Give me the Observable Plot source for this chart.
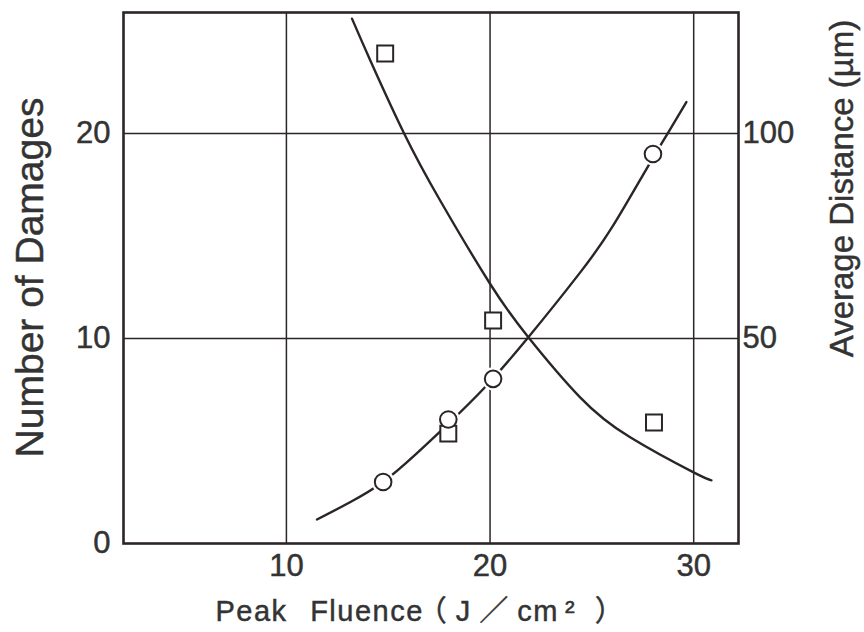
<!DOCTYPE html>
<html>
<head>
<meta charset="utf-8">
<script src="https://cdn.jsdelivr.net/npm/d3@7"></script>
<script src="https://cdn.jsdelivr.net/npm/@observablehq/plot@0.6"></script>
<style>
  html, body { margin: 0; padding: 0; background: #ffffff; }
  #chart { width: 864px; height: 632px; }
</style>
</head>
<body>
<div id="chart"></div>
<script>
// Measured points: number of damages (circles, left axis)
const damageFluence = [14.75, 17.95, 20.15, 28.0];
const damageCount = [3.0, 6.05, 8.03, 19.0];

// Measured points: average distance in µm (squares, right axis)
const distanceFluence = [14.85, 17.95, 20.15, 28.05];
const distanceUm = [119.5, 26.8, 54.4, 29.5];

// Hand-drawn fitted curves
const damageCurveX = [11.5, 13.1, 14.74, 16.4, 17.96, 19.75, 21.88, 24.41, 26.04, 27.7, 28.74, 29.64];
const damageCurveY = [1.17, 2.0, 3.0, 4.4, 5.85, 7.62, 10.06, 13.2, 15.5, 18.3, 20.03, 21.53];
const distanceCurveX = [13.22, 14.12, 15.78, 17.55, 20.0, 21.88, 24.41, 26.86, 29.97, 30.87];
const distanceCurveUm = [128, 117.8, 100, 83.65, 63.35, 50.3, 35.7, 25.95, 17.4, 15.4];

// Axis ticks
const xTicks = [10, 20, 30];
const yTicks = [0, 10, 20];
const rightTicksUm = [50, 100];

// Axis titles
const xTitleMain = "Peak Fluence";
const xTitleUnitParts = ["（J／", "cm", "²", "）"];
const yTitleLeft = "Number of Damages";
const yTitleRight = "Average Distance (µm)";

const UM_PER_UNIT = 5; // right axis: 100 µm lines up with 20 damages

const ink = "#2b2527";
const textInk = "#333333";
const font = "'Liberation Sans', Arial, Helvetica, sans-serif";

const damagePts = damageFluence.map((x, i) => ({x, y: damageCount[i]}));
const distancePts = distanceFluence.map((x, i) => ({x, um: distanceUm[i]}));
const damageCurve = damageCurveX.map((x, i) => ({x, y: damageCurveY[i]}));
const distanceCurve = distanceCurveX.map((x, i) => ({x, um: distanceCurveUm[i]}));

const chart = Plot.plot({
  width: 864,
  height: 632,
  marginLeft: 123,
  marginRight: 126,
  marginTop: 12,
  marginBottom: 89,
  style: {fontFamily: font, fontSize: "31px", color: textInk, background: "#ffffff"},
  x: {domain: [2, 32.2]},
  y: {domain: [0, 25.9]},
  marks: [
    Plot.ruleX(xTicks, {stroke: ink, strokeWidth: 1.5}),
    Plot.ruleY(yTicks.filter(d => d > 0), {stroke: ink, strokeWidth: 1.5}),
    Plot.line(damageCurve, {x: "x", y: "y", curve: "natural", stroke: ink, strokeWidth: 2.4}),
    Plot.line(distanceCurve, {x: "x", y: d => d.um / UM_PER_UNIT, curve: "natural", stroke: ink, strokeWidth: 2.4}),
    // white halo so the curve stops short of each circle
    Plot.dot(damagePts, {x: "x", y: "y", r: 11.5, fill: "#ffffff", stroke: "none"}),
    Plot.dot(distancePts, {x: "x", y: d => d.um / UM_PER_UNIT, symbol: "square", r: 9, fill: "#ffffff", stroke: ink, strokeWidth: 2}),
    Plot.dot(damagePts, {x: "x", y: "y", r: 8.3, fill: "#ffffff", stroke: ink, strokeWidth: 2}),
    Plot.frame({stroke: ink, strokeWidth: 2.6}),
    Plot.axisX(xTicks, {tickSize: 0, tickPadding: 10, label: null, fill: textInk}),
    Plot.axisY(yTicks, {anchor: "left", tickSize: 0, tickPadding: 13, label: null, fill: textInk}),
    Plot.axisY(rightTicksUm.map(d => d / UM_PER_UNIT), {anchor: "right", tickSize: 0, tickPadding: 4, label: null, fill: textInk, tickFormat: d => Math.round(d * UM_PER_UNIT)}),
    Plot.text([xTitleMain + xTitleUnitParts.join("")], {frameAnchor: "bottom-left", textAnchor: "start", lineAnchor: "bottom", dx: 92, dy: 77, fontSize: 29, fill: textInk}),
    Plot.text([yTitleLeft], {frameAnchor: "left", textAnchor: "middle", lineAnchor: "bottom", rotate: -90, dx: -81, dy: 277 - 277.5, fontSize: 39, fill: textInk}),
    Plot.text([yTitleRight], {frameAnchor: "right", textAnchor: "middle", lineAnchor: "bottom", rotate: -90, dx: 114, dy: 188 - 277.5, fontSize: 33, fill: textInk})
  ]
});

// Split the x title into spans so the unit part is spaced like the original
const partStyles = [
  {dx: -6, ls: "9px"},
  {dx: 0, ls: "1.5px"},
  {dx: 6, ls: "0px"},
  {dx: 20, ls: "0px"}
];
d3.select(chart).selectAll("text")
  .filter(function() { return this.textContent.startsWith(xTitleMain); })
  .each(function() {
    const t = d3.select(this);
    t.text(null)
      .style("font-family", "'Liberation Sans', Arial, 'Noto Sans CJK JP', sans-serif");
    t.append("tspan").text(xTitleMain)
      .style("letter-spacing", "1.5px")
      .style("word-spacing", "13px");
    xTitleUnitParts.forEach((p, i) => {
      t.append("tspan").text(p)
        .attr("dx", partStyles[i].dx)
        .style("letter-spacing", partStyles[i].ls);
    });
  });

// slightly heavier lettering, like the printed original
d3.select(chart).selectAll("text")
  .attr("stroke", textInk)
  .attr("stroke-width", 0.45);

document.getElementById("chart").appendChild(chart);
</script>
</body>
</html>
